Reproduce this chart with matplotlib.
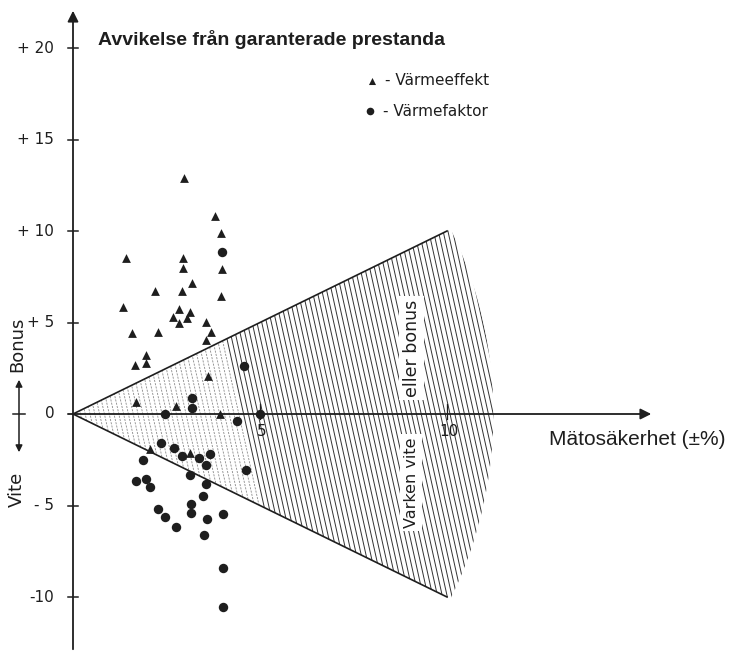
import numpy as np
import matplotlib
matplotlib.use("Agg")
import matplotlib.pyplot as plt
from matplotlib.patches import Polygon

# Värmeeffekt (trianglar): mätosäkerhet (%), avvikelse (%)
effekt_x = [2.97, 3.80, 3.97, 1.43, 2.93, 2.93, 3.98, 3.17, 2.20, 2.92, 3.97,
            1.34, 2.83, 3.12, 2.67, 3.05, 2.83, 3.56, 1.59, 2.26, 3.70, 3.56,
            1.96, 1.66, 1.96, 3.61, 1.68, 2.76, 3.92, 2.07, 3.14]
effekt_y = [12.9, 10.8, 9.9, 8.5, 8.55, 7.97, 7.95, 7.17, 6.74, 6.70, 6.47,
            5.87, 5.74, 5.56, 5.29, 5.25, 4.96, 5.02, 4.42, 4.47, 4.47, 4.02,
            3.24, 2.66, 2.79, 2.07, 0.65, 0.45, 0.0, -1.92, -2.14]

# Värmefaktor (cirklar)
faktor_x = [3.99, 4.56, 3.17, 3.18, 2.45, 4.99, 4.39, 2.35, 2.69, 2.92, 3.37,
            3.65, 3.56, 1.87, 4.63, 3.14, 1.68, 1.96, 2.07, 3.55, 3.47, 3.15,
            2.28, 3.15, 4.00, 2.47, 3.57, 2.75, 3.50, 4.00, 4.01]
faktor_y = [8.86, 2.63, 0.85, 0.34, 0.0, 0.0, -0.36, -1.59, -1.88, -2.32, -2.41,
            -2.17, -2.77, -2.52, -3.04, -3.32, -3.68, -3.53, -3.97, -3.83, -4.49, -4.91,
            -5.18, -5.42, -5.45, -5.63, -5.73, -6.16, -6.61, -8.42, -10.54]

y_ticks = [20, 15, 10, 5, 0, -5, -10]
y_tick_labels = ["+ 20", "+ 15", "+ 10", "+ 5", "0", "- 5", "-10"]
x_ticks = [5, 10]
x_tick_labels = ["5", "10"]

# skala: pixlar per enhet
XS, YS = 37.4, 18.3
W, H = 732, 652
X0, Y0 = 73, 414

fig = plt.figure(figsize=(W / 100, H / 100), dpi=100)
ax = fig.add_axes([0, 0, 1, 1])
ax.set_xlim(-X0 / XS, (W - X0) / XS)
ax.set_ylim((Y0 - H) / YS, Y0 / YS)
ax.axis("off")

tech = ["DejaVu Sans"]
ink = "#1e1e1e"

# skrafferat område: varken vite eller bonus
th0 = np.arctan2(10 * YS, 10 * XS)
R = np.hypot(10 * YS, 10 * XS) + 4
th = np.linspace(th0, -th0, 40)
arc = np.column_stack([R * np.cos(th) / XS, R * np.sin(th) / YS])
verts = np.vstack([[0, 0], arc, [0, 0]])
region = Polygon(verts, closed=True, facecolor="none", edgecolor="none")
ax.add_patch(region)

for x0 in np.arange(-2.0, 12.5, 4.8 / XS):
    xm = x0 + 1.3
    if xm < 4.5:
        style, col, lw = (0, (2.5, 1.5)), "#8a8a8a", 0.6
    else:
        style, col, lw = "-", "#333333", 0.7
    ln, = ax.plot([x0, x0 + 2.6], [12, -12], ls=style, color=col, lw=lw)
    ln.set_clip_path(region)

# gränslinjer
ax.plot([0, 10], [0, 10], color=ink, lw=1.2)
ax.plot([0, 10], [0, -10], color=ink, lw=1.2)

# axlar med pilar
ax.annotate("", xy=(0, (Y0 - 8) / YS), xytext=(0, (Y0 - H) / YS),
            arrowprops=dict(arrowstyle="-|>", color=ink, lw=1.3, mutation_scale=16))
ax.annotate("", xy=((654 - X0) / XS, 0), xytext=(-0.21, 0),
            arrowprops=dict(arrowstyle="-|>", color=ink, lw=1.3, mutation_scale=16))

for v, lab in zip(y_ticks, y_tick_labels):
    if v != 0:
        ax.plot([-0.14, 0.14], [v, v], color=ink, lw=1.1)
    ax.text(-0.5, v, lab, ha="right", va="center", fontsize=11,
            family=tech, color=ink)

for v, lab in zip(x_ticks, x_tick_labels):
    ax.plot([v, v], [-0.25, 0.55], color=ink, lw=0.9)
    ax.text(v + 0.05, -0.95, lab, ha="center", va="center", fontsize=11,
            family=tech, color=ink)

# datapunkter
ax.scatter(effekt_x, effekt_y, marker="^", s=40, color=ink, lw=0, zorder=5)
ax.scatter(faktor_x, faktor_y, marker="o", s=46, color=ink, lw=0, zorder=5)

# rubrik och förklaring
ax.text(0.67, 20.45, "Avvikelse från garanterade prestanda", ha="left",
        va="center", fontsize=14, fontweight="bold", family=["Liberation Sans"],
        color=ink)
ax.scatter([8.0], [18.2], marker="^", s=26, color=ink, lw=0)
ax.scatter([7.94], [16.55], marker="o", s=30, color=ink, lw=0)
ax.text(8.33, 18.2, "- Värmeeffekt", ha="left", va="center", fontsize=11,
        family=tech, color=ink)
ax.text(8.30, 16.55, "- Värmefaktor", ha="left", va="center", fontsize=11,
        family=tech, color=ink)

ax.text((549 - X0) / XS, -1.42, "Mätosäkerhet (±%)", ha="left", va="center",
        fontsize=15, family=["Liberation Sans"], color=ink)

# texter i det skrafferade området
box = dict(facecolor="white", edgecolor="none", pad=2.5)
ax.text(9.06, 3.6, "eller bonus", rotation=90, ha="center", va="center",
        fontsize=12.5, family=tech, color=ink, bbox=box, zorder=6)
ax.text(9.04, -3.75, "Varken vite", rotation=90, ha="center", va="center",
        fontsize=11.5, family=tech, color=ink, bbox=box, zorder=6)

# Bonus / Vite till vänster
bx = (19 - X0) / XS
ax.annotate("", xy=(bx, (Y0 - 377) / YS), xytext=(bx, (Y0 - 455) / YS),
            arrowprops=dict(arrowstyle="<|-|>", color=ink, lw=1.1, mutation_scale=10))
ax.plot([(13 - X0) / XS, (25 - X0) / XS], [0, 0], color=ink, lw=1.1)
ax.text((17 - X0) / XS, (Y0 - 344) / YS, "Bonus", rotation=90, ha="center",
        va="center", fontsize=13, family=tech, color=ink)
ax.text((17 - X0) / XS, (Y0 - 489) / YS, "Vite", rotation=90, ha="center",
        va="center", fontsize=13, family=tech, color=ink)

fig.savefig("out.png", dpi=100, facecolor="white")
